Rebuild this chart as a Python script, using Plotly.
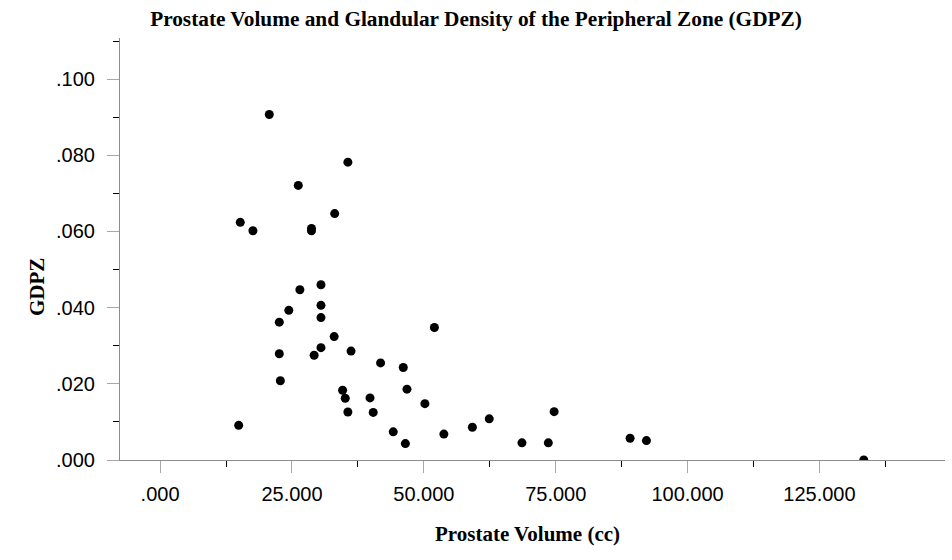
import plotly.graph_objects as go

# Prostate volume (cc) vs glandular density of the peripheral zone
volume = [20.7, 35.6, 26.2, 33.1, 15.2, 17.6, 28.7, 28.7, 30.5, 26.5,
          30.5, 24.4, 30.5, 22.6, 52.0, 33.0, 30.5, 22.6, 29.2, 36.2,
          41.8, 46.1, 22.8, 34.6, 35.1, 46.8, 39.8, 50.2, 35.6, 40.4,
          14.9, 44.2, 53.8, 46.5, 59.2, 62.4, 68.6, 73.6, 74.7, 89.1,
          92.2, 133.4]
gdpz = [.0907, .0782, .0721, .0647, .0624, .0602, .0608, .0602, .0460, .0447,
        .0406, .0393, .0374, .0362, .0348, .0324, .0295, .0279, .0275, .0286,
        .0255, .0243, .0208, .0183, .0162, .0186, .0163, .0148, .0126, .0125,
        .0091, .0074, .0068, .0043, .0086, .0108, .0045, .0045, .0127, .0057,
        .0051, .0000]

x_ticks = [0, 25, 50, 75, 100, 125]
x_labels = ['.000', '25.000', '50.000', '75.000', '100.000', '125.000']
y_ticks = [0, .02, .04, .06, .08, .10]
y_labels = ['.000', '.020', '.040', '.060', '.080', '.100']

serif = 'Liberation Serif, Times New Roman, serif'
sans = 'Liberation Sans, Arial, sans-serif'

fig = go.Figure(go.Scatter(
    x=volume, y=gdpz, mode='markers',
    marker=dict(color='black', size=9),
    cliponaxis=True, showlegend=False,
))

axis_style = dict(
    showgrid=False, zeroline=False, showline=True, linecolor='#8c8c8c',
    linewidth=1, ticks='outside', ticklen=12, tickcolor='#a8a8a8',
    tickfont=dict(family=sans, size=20, color='black'),
)

fig.update_xaxes(
    range=[-7.6, 148.8], tickmode='array', tickvals=x_ticks, ticktext=x_labels,
    ticklabelstandoff=4,
    minor=dict(tick0=0, dtick=12.5, ticks='outside', ticklen=6, tickcolor='black'),
    **axis_style,
)
fig.update_yaxes(
    range=[0, 0.1108], tickmode='array', tickvals=y_ticks, ticktext=y_labels,
    ticklabelstandoff=8,
    minor=dict(tick0=0, dtick=0.01, ticks='outside', ticklen=6, tickcolor='black'),
    **axis_style,
)

fig.update_layout(
    width=952, height=560,
    margin=dict(l=120, r=7, t=38, b=100),
    paper_bgcolor='white', plot_bgcolor='white',
    title=dict(
        text='<b>Prostate Volume and Glandular Density of the Peripheral Zone (GDPZ)</b>',
        font=dict(family=serif, size=21.3, color='black'),
        xref='container', x=0.5, xanchor='center',
        yref='container', y=0.966, yanchor='middle',
    ),
    annotations=[
        dict(text='<b>Prostate Volume (cc)</b>', xref='paper', yref='paper',
             x=0.4945, y=-0.175, xanchor='center', yanchor='middle',
             showarrow=False, font=dict(family=serif, size=21, color='black')),
        dict(text='<b>GDPZ</b>', xref='paper', yref='paper',
             x=-0.1006, y=0.41, xanchor='center', yanchor='middle', textangle=-90,
             showarrow=False, font=dict(family=serif, size=21, color='black')),
    ],
)

fig.write_html('out.html', config={'displayModeBar': False},
               post_script="document.body.style.margin='0';")
